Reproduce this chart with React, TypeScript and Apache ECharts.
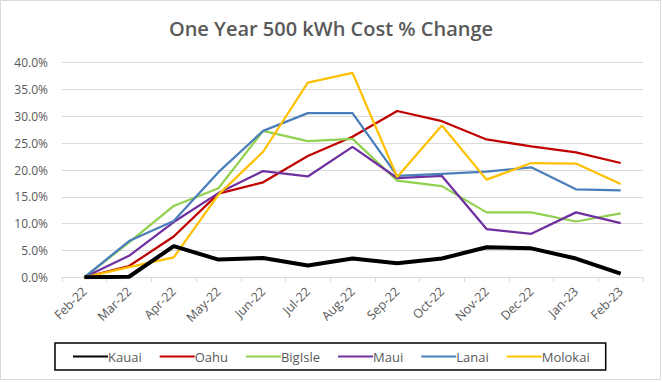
import React, { useEffect, useRef } from "react";
import * as echarts from "echarts";

const categories = ["Feb-22","Mar-22","Apr-22","May-22","Jun-22","Jul-22","Aug-22","Sep-22","Oct-22","Nov-22","Dec-22","Jan-23","Feb-23"];
const kauai = [0, 0.1, 5.8, 3.3, 3.6, 2.2, 3.5, 2.6, 3.5, 5.6, 5.4, 3.5, 0.7];
const oahu = [0, 2.1, 7.6, 15.6, 17.7, 22.6, 26.2, 31.0, 29.1, 25.7, 24.4, 23.3, 21.3];
const bigIsle = [0, 6.5, 13.3, 16.6, 27.3, 25.4, 25.8, 18.0, 17.0, 12.1, 12.1, 10.4, 11.9];
const maui = [0, 4.0, 10.3, 15.7, 19.8, 18.8, 24.3, 18.5, 18.9, 9.0, 8.1, 12.1, 10.1];
const lanai = [0, 6.75, 10.5, 19.6, 27.3, 30.6, 30.6, 18.9, 19.3, 19.7, 20.5, 16.4, 16.2];
const molokai = [0, 1.9, 3.7, 15.4, 23.4, 36.3, 38.1, 18.7, 28.3, 18.2, 21.3, 21.2, 17.4];
const yTicks = { min: 0, max: 40, interval: 5 };

export default function App() {
  const ref = useRef<HTMLDivElement>(null);
  useEffect(() => {
    const chart = echarts.init(ref.current!, null, { renderer: "svg" });
    const font = "'Open Sans', sans-serif";
    const mk = (name: string, data: number[], color: string, width: number) => ({
      name,
      type: "line",
      data,
      symbol: "none",
      showSymbol: false,
      lineStyle: { color, width },
      itemStyle: { color },
      z: name === "Kauai" ? 10 : 2,
    });
    chart.setOption({
      animation: false,
      backgroundColor: "#ffffff",
      textStyle: { fontFamily: font },
      title: {
        text: "One Year 500 kWh Cost % Change",
        left: "center",
        top: 13,
        textStyle: { fontFamily: font, fontSize: 20, fontWeight: 600, color: "#595959" },
      },
      graphic: [
        {
          type: "rect",
          shape: { x: 0.5, y: 0.5, width: 660, height: 379 },
          style: { fill: "none", stroke: "#d9d9d9", lineWidth: 1 },
          silent: true,
        },
      ],
      grid: { left: 62, right: 19, top: 62.7, bottom: 104.7 },
      legend: {
        left: 55,
        top: 343,
        width: 551,
        height: 28,
        padding: [7, 16, 7, 17],
        itemGap: 17,
        itemWidth: 35,
        itemHeight: 12,
        borderColor: "#000000",
        borderWidth: 1.5,
        itemStyle: { opacity: 0 },
        textStyle: { fontFamily: font, fontSize: 13, color: "#595959", padding: [0, 0, 0, -5] },
        data: ["Kauai", "Oahu", "BigIsle", "Maui", "Lanai", "Molokai"],
      },
      xAxis: {
        type: "category",
        data: categories,
        boundaryGap: true,
        axisLine: { lineStyle: { color: "#d9d9d9", width: 1 } },
        axisTick: { show: true, length: 5, lineStyle: { color: "#d9d9d9" } },
        axisLabel: { rotate: 45, margin: 12, fontSize: 12.5, color: "#595959", fontFamily: font },
      },
      yAxis: {
        type: "value",
        min: yTicks.min,
        max: yTicks.max,
        interval: yTicks.interval,
        axisLine: { show: false },
        axisTick: { show: false },
        splitLine: { lineStyle: { color: "#d9d9d9", width: 1 } },
        axisLabel: {
          margin: 14,
          fontSize: 12,
          color: "#595959",
          fontFamily: font,
          formatter: (v: number) => v.toFixed(1) + "%",
        },
      },
      series: [
        mk("Kauai", kauai, "#000000", 4),
        mk("Oahu", oahu, "#C00000", 2.25),
        mk("BigIsle", bigIsle, "#92D050", 2.25),
        mk("Maui", maui, "#7030A0", 2.25),
        mk("Lanai", lanai, "#4A7EBB", 2.25),
        mk("Molokai", molokai, "#FFC000", 2.25),
      ],
    });
    return () => chart.dispose();
  }, []);
  return <div ref={ref} style={{ position: "fixed", left: 0, top: 0, width: 662, height: 382 }} />;
}
